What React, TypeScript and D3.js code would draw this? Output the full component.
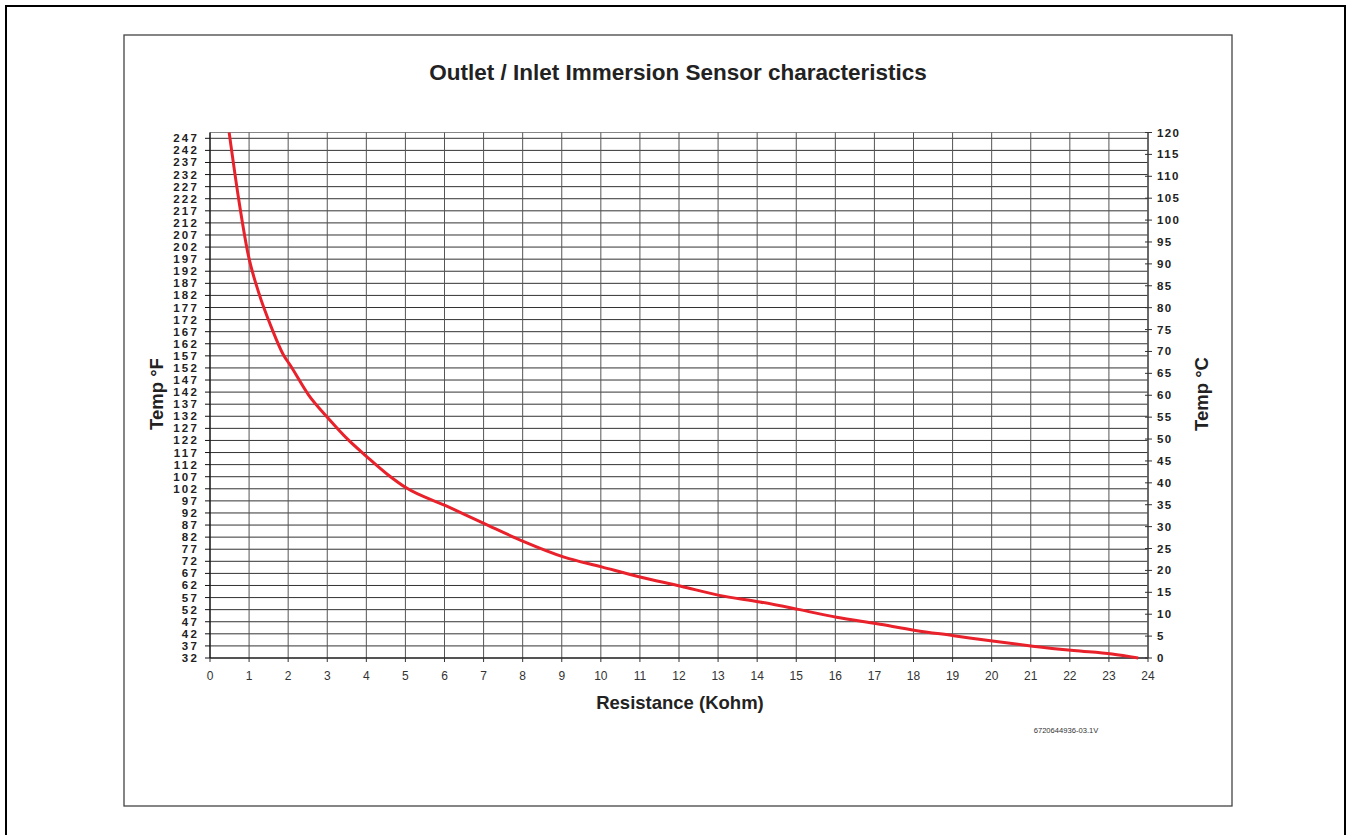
import React from "react";
import * as d3 from "d3";

const title = "Outlet / Inlet Immersion Sensor characteristics";
const xTitle = "Resistance (Kohm)";
const yLeftTitle = "Temp \u00B0F";
const yRightTitle = "Temp \u00B0C";
const docCode = "6720644936-03.1V";

// resistance (kOhm) ticks
const xTicks = d3.range(0, 25, 1);
// left axis °F ticks
const fTicks = d3.range(32, 248, 5);
// right axis °C ticks
const cTicks = d3.range(0, 121, 5);

// curve: resistance (kOhm) and temperature (°C)
const resistance = [
  0.49, 0.73, 0.98, 1.24, 1.58, 1.88, 2.05, 2.52, 3.03, 3.54, 4.01, 4.56, 5.03,
  6.03, 7.02, 8.0, 9.04, 10.02, 11.0, 12.05, 13.03, 14.07, 15.05, 16.03, 17.07,
  18.05, 19.03, 20.07, 21.05, 22.1, 23.08, 23.75,
];
const tempC = [
  120, 105, 92, 83.6, 75.3, 69.2, 66.9, 60.1, 54.7, 49.8, 46.0, 41.8, 38.8,
  34.8, 30.7, 26.7, 23.1, 20.8, 18.5, 16.4, 14.3, 12.8, 11.1, 9.3, 7.8,
  6.3, 5.1, 3.8, 2.7, 1.7, 0.9, 0,
];

const W = 1351;
const H = 835;
const left = 210;
const right = 1148;
const bottom = 658;

export default function App() {
  const x = d3.scaleLinear().domain([0, 24]).range([left, right]);
  const yC = d3.scaleLinear().domain([0, 120]).range([bottom, 132.5]);
  const yF = d3.scaleLinear().domain([32, 247]).range([bottom, 138.3]);
  const top = yC(120);

  const pts = resistance.map((r, i) => [r, tempC[i]] as [number, number]);
  const line = d3
    .line<[number, number]>()
    .x((d) => x(d[0]))
    .y((d) => yC(d[1]))
    .curve(d3.curveMonotoneX);

  const font = "'Liberation Sans', Arial, sans-serif";

  return (
    <svg
      width={W}
      height={H}
      style={{ position: "absolute", left: 0, top: 0, background: "#fff" }}
      fontFamily={font}
    >
      {/* outer frame */}
      <rect x={6} y={6} width={1339} height={860} fill="none" stroke="#000" strokeWidth={2} />
      {/* inner box */}
      <rect x={124} y={35} width={1108} height={771} fill="none" stroke="#444" strokeWidth={1.3} />

      <text x={678} y={80} textAnchor="middle" fontSize={22.5} fontWeight="bold" fill="#222">
        {title}
      </text>

      {/* horizontal gridlines */}
      {fTicks.map((f) => (
        <line key={"h" + f} x1={left} x2={right} y1={yF(f)} y2={yF(f)} stroke="#333" strokeWidth={1} />
      ))}
      <line x1={left} x2={right} y1={top} y2={top} stroke="#888" strokeWidth={1.2} />
      {/* vertical gridlines */}
      {xTicks.map((t) => (
        <line key={"v" + t} x1={x(t)} x2={x(t)} y1={top} y2={bottom} stroke="#555" strokeWidth={1} />
      ))}

      {/* axes */}
      <line x1={left} x2={left} y1={top} y2={bottom} stroke="#111" strokeWidth={1.2} />
      <line x1={left} x2={right} y1={bottom} y2={bottom} stroke="#111" strokeWidth={1.2} />
      <line x1={right} x2={right} y1={top} y2={bottom} stroke="#555" strokeWidth={1.5} />

      {/* left ticks/labels */}
      {fTicks.map((f) => (
        <g key={"lf" + f}>
          <line x1={left - 5} x2={left} y1={yF(f)} y2={yF(f)} stroke="#111" />
          <text
            x={199}
            y={yF(f) + 4}
            textAnchor="end"
            fontSize={11.5}
            fontWeight="bold"
            letterSpacing={2.2}
            fill="#222"
          >
            {String(f)}
          </text>
        </g>
      ))}

      {/* right ticks/labels */}
      {cTicks.map((c) => (
        <g key={"rc" + c}>
          <line x1={right - 3} x2={right + 4} y1={yC(c)} y2={yC(c)} stroke="#333" />
          <text x={1157} y={yC(c) + 4} fontSize={11.5} fontWeight="bold" letterSpacing={1.4} fill="#222">
            {String(c)}
          </text>
        </g>
      ))}

      {/* bottom ticks/labels */}
      {xTicks.map((t) => (
        <g key={"bx" + t}>
          <line x1={x(t)} x2={x(t)} y1={bottom} y2={bottom + 4} stroke="#333" />
          <text x={x(t)} y={680} textAnchor="middle" fontSize={12} fill="#333">
            {String(t)}
          </text>
        </g>
      ))}

      {/* axis titles */}
      <text
        transform={`translate(163,${394}) rotate(-90)`}
        textAnchor="middle"
        fontSize={18.5}
        fontWeight="bold"
        fill="#222"
      >
        {yLeftTitle}
      </text>
      <text
        transform={`translate(1208,${394}) rotate(-90)`}
        textAnchor="middle"
        fontSize={18.5}
        fontWeight="bold"
        fill="#222"
      >
        {yRightTitle}
      </text>
      <text x={680} y={709} textAnchor="middle" fontSize={18.5} fontWeight="bold" fill="#222">
        {xTitle}
      </text>

      <text x={1066} y={733} textAnchor="middle" fontSize={7.6} fill="#333">
        {docCode}
      </text>

      {/* curve */}
      <path d={line(pts) || ""} fill="none" stroke="#e8212b" strokeWidth={3} strokeLinejoin="round" />
    </svg>
  );
}
